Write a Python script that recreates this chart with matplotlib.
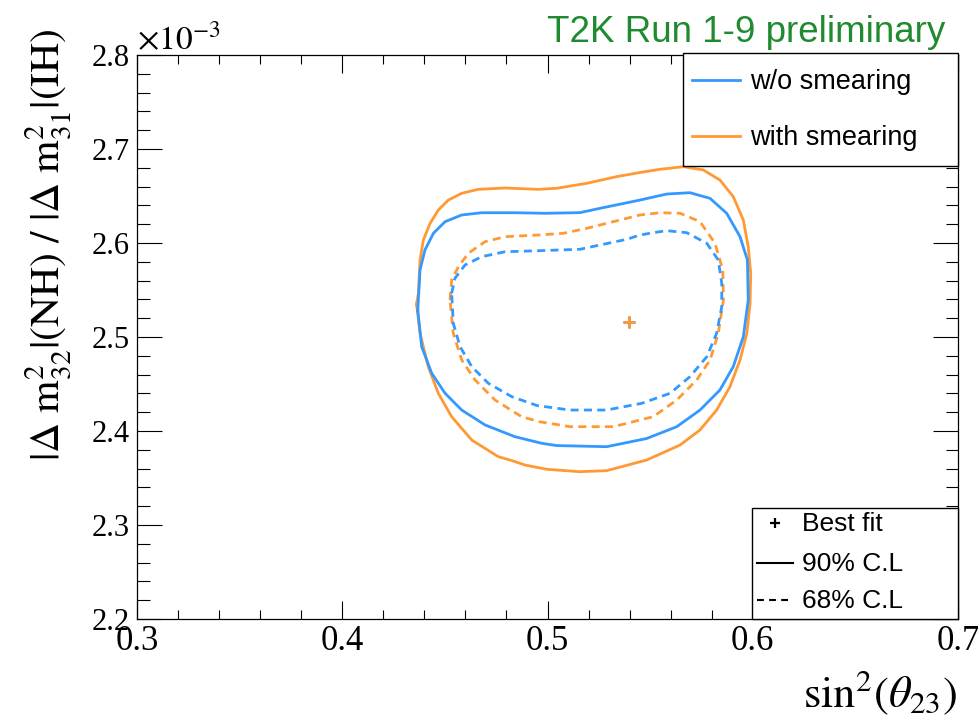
import numpy as np
import matplotlib
matplotlib.use("Agg")
import matplotlib.pyplot as plt
from matplotlib.patches import Rectangle
from matplotlib.lines import Line2D
from matplotlib.ticker import MultipleLocator

# ---------------- data (sin^2(theta23), dm^2 in units of 1e-3 eV^2) ----------------
BEST_FIT_X = 0.5395
BEST_FIT_Y = 2.516

ORANGE_90_X = [0.4362, 0.4371, 0.4379, 0.4395, 0.4428, 0.4468, 0.4517, 0.4582, 0.4663, 0.4793,
               0.4955, 0.5045, 0.5191, 0.5337, 0.5451, 0.5548, 0.5662, 0.5759, 0.5840, 0.5905,
               0.5954, 0.5978, 0.5990, 0.5987, 0.5971, 0.5938, 0.5889, 0.5824, 0.5743, 0.5646,
               0.5483, 0.5288, 0.5158, 0.4996, 0.4890, 0.4833, 0.4760, 0.4631, 0.4533, 0.4468,
               0.4419, 0.4379]
ORANGE_90_Y = [2.5350, 2.5465, 2.5819, 2.6032, 2.6209, 2.6351, 2.6457, 2.6529, 2.6571, 2.6585,
               2.6571, 2.6582, 2.6635, 2.6706, 2.6750, 2.6784, 2.6812, 2.6777, 2.6670, 2.6493,
               2.6245, 2.5961, 2.5678, 2.5359, 2.5039, 2.4755, 2.4471, 2.4223, 2.4011, 2.3851,
               2.3691, 2.3578, 2.3567, 2.3593, 2.3638, 2.3681, 2.3727, 2.3904, 2.4152, 2.4401,
               2.4684, 2.5039]

BLUE_90_X = [0.4368, 0.4379, 0.4403, 0.4444, 0.4501, 0.4582, 0.4679, 0.4842, 0.4988, 0.5158,
             0.5256, 0.5451, 0.5581, 0.5694, 0.5792, 0.5873, 0.5938, 0.5974, 0.5978, 0.5954,
             0.5905, 0.5840, 0.5743, 0.5630, 0.5483, 0.5288, 0.5045, 0.4972, 0.4842, 0.4696,
             0.4582, 0.4501, 0.4436, 0.4387]
BLUE_90_Y = [2.5287, 2.5713, 2.5926, 2.6103, 2.6227, 2.6298, 2.6322, 2.6322, 2.6316, 2.6323,
             2.6369, 2.6457, 2.6521, 2.6535, 2.6475, 2.6316, 2.6067, 2.5819, 2.5394, 2.5003,
             2.4684, 2.4436, 2.4223, 2.4046, 2.3920, 2.3833, 2.3845, 2.3869, 2.3939, 2.4064,
             2.4223, 2.4401, 2.4614, 2.4897]

ORANGE_68_X = [0.4525, 0.4533, 0.4566, 0.4614, 0.4696, 0.4793, 0.4955, 0.5077, 0.5191, 0.5321,
               0.5451, 0.5548, 0.5646, 0.5743, 0.5816, 0.5854, 0.5857, 0.5832, 0.5792, 0.5727,
               0.5630, 0.5515, 0.5321, 0.5110, 0.4960, 0.4874, 0.4744, 0.4647, 0.4582, 0.4541]
ORANGE_68_Y = [2.5394, 2.5606, 2.5748, 2.5890, 2.6014, 2.6067, 2.6085, 2.6103, 2.6156, 2.6227,
               2.6298, 2.6322, 2.6316, 2.6227, 2.5997, 2.5713, 2.5394, 2.5039, 2.4755, 2.4543,
               2.4330, 2.4152, 2.4046, 2.4046, 2.4099, 2.4152, 2.4330, 2.4543, 2.4755, 2.5039]

BLUE_68_X = [0.4533, 0.4549, 0.4598, 0.4679, 0.4793, 0.4955, 0.5158, 0.5256, 0.5386, 0.5451,
             0.5516, 0.5581, 0.5678, 0.5776, 0.5832, 0.5849, 0.5849, 0.5824, 0.5776, 0.5694,
             0.5597, 0.5460, 0.5288, 0.5110, 0.4950, 0.4826, 0.4712, 0.4631, 0.4574, 0.4541]
BLUE_68_Y = [2.5465, 2.5624, 2.5766, 2.5854, 2.5907, 2.5918, 2.5933, 2.5979, 2.6039, 2.6085,
             2.6110, 2.6131, 2.6110, 2.5997, 2.5819, 2.5571, 2.5322, 2.5039, 2.4790, 2.4578,
             2.4401, 2.4295, 2.4223, 2.4223, 2.4270, 2.4365, 2.4507, 2.4684, 2.4897, 2.5146]

X_TICKS = [0.3, 0.4, 0.5, 0.6, 0.7]
Y_TICKS = [2.2, 2.3, 2.4, 2.5, 2.6, 2.7, 2.8]
SERIES_LABELS = ["w/o smearing", "with smearing"]
CL_LABELS = ["Best fit", "90% C.L", "68% C.L"]

BLUE = "#3399ff"
ORANGE = "#ff9933"
GREEN = "#1f8a2f"

# ---------------- figure ----------------
plt.rcParams["mathtext.fontset"] = "stix"
W, H = 979, 715
fig = plt.figure(figsize=(W / 100, H / 100), dpi=100)


def fx(px):
    return px / W


def fy(py):
    return 1 - py / H


ax = fig.add_axes([fx(137), fy(619), (958 - 137) / W, (619 - 55) / H])


def closed(xs, ys):
    return np.append(xs, xs[0]), np.append(ys, ys[0])


dash = (0, (2.9, 1.9))
ax.plot(*closed(ORANGE_90_X, ORANGE_90_Y), color=ORANGE, lw=2.0, solid_joinstyle="round")
ax.plot(*closed(BLUE_90_X, BLUE_90_Y), color=BLUE, lw=2.0, solid_joinstyle="round")
ax.plot(*closed(ORANGE_68_X, ORANGE_68_Y), color=ORANGE, lw=2.0, ls=dash)
ax.plot(*closed(BLUE_68_X, BLUE_68_Y), color=BLUE, lw=2.0, ls=dash)
ax.plot([BEST_FIT_X], [BEST_FIT_Y], marker="+", color=BLUE, ms=9, mew=2, ls="none")
ax.plot([BEST_FIT_X], [BEST_FIT_Y], marker="+", color=ORANGE, ms=9, mew=2, ls="none")

ax.set_xlim(0.3, 0.7)
ax.set_ylim(2.2, 2.8)
ax.set_xticks(X_TICKS)
ax.set_yticks(Y_TICKS)
ax.xaxis.set_minor_locator(MultipleLocator(0.02))
ax.yaxis.set_minor_locator(MultipleLocator(0.02))
ax.set_xticklabels([f"{v:.1f}" for v in X_TICKS], fontfamily="Liberation Serif", fontsize=25)
ax.set_yticklabels([f"{v:.1f}" for v in Y_TICKS], fontfamily="Liberation Serif", fontsize=22)
ax.tick_params(axis="both", which="both", direction="in", top=True, right=True, width=0.8)
ax.tick_params(axis="x", which="major", length=13, pad=4)
ax.tick_params(axis="x", which="minor", length=6.5)
ax.tick_params(axis="y", which="major", length=18, pad=5)
ax.tick_params(axis="y", which="minor", length=9)
for s in ax.spines.values():
    s.set_linewidth(0.9)

# exponent
fig.text(fx(137), fy(50), r"$\times10^{-3}$", fontsize=24, ha="left", va="baseline")

# axis titles
fig.text(fx(957), fy(707), r"$\mathrm{sin}^{2}(\theta_{23})$", fontsize=32,
         ha="right", va="baseline")
fig.text(fx(48), fy(28),
         r"$|\Delta\ \mathrm{m}^{2}_{32}|\mathrm{(NH)}\ /\ |\Delta\ \mathrm{m}^{2}_{31}|\mathrm{(IH)}$",
         fontsize=30, rotation=90, ha="center", va="top")

# header
fig.text(fx(945), fy(42), "T2K Run 1-9 preliminary", color=GREEN, fontsize=26.5,
         fontfamily="Liberation Sans", ha="right", va="baseline")

# legend 1
fig.add_artist(Rectangle((fx(683), fy(166)), (958 - 683) / W, (166 - 53) / H,
                         transform=fig.transFigure, facecolor="white", edgecolor="black",
                         lw=1.0, zorder=5))
for yy, col, lab in [(80, BLUE, SERIES_LABELS[0]), (136, ORANGE, SERIES_LABELS[1])]:
    fig.add_artist(Line2D([fx(692), fx(740)], [fy(yy), fy(yy)], color=col, lw=2.0,
                          transform=fig.transFigure, zorder=6))
    fig.text(fx(750), fy(yy + 2), lab, fontsize=19.5, fontfamily="Liberation Sans",
             ha="left", va="center", zorder=6)

# legend 2
fig.add_artist(Rectangle((fx(752), fy(619)), (958 - 752) / W, (619 - 508) / H,
                         transform=fig.transFigure, facecolor="white", edgecolor="black",
                         lw=1.0, zorder=5))
fig.add_artist(Line2D([fx(775)], [fy(523)], marker="+", color="black", ms=7, mew=1.6,
                      ls="none", transform=fig.transFigure, zorder=6))
fig.add_artist(Line2D([fx(757), fx(793)], [fy(563), fy(563)], color="black", lw=1.5,
                      transform=fig.transFigure, zorder=6))
fig.add_artist(Line2D([fx(757), fx(793)], [fy(600), fy(600)], color="black", lw=1.5,
                      ls=(0, (3.3, 2.5)), transform=fig.transFigure, zorder=6))
for yy, lab in zip([523, 563, 600], CL_LABELS):
    fig.text(fx(802), fy(yy + 1), lab, fontsize=19, fontfamily="Liberation Sans",
             ha="left", va="center", zorder=6)

fig.savefig("out.png", dpi=100)
